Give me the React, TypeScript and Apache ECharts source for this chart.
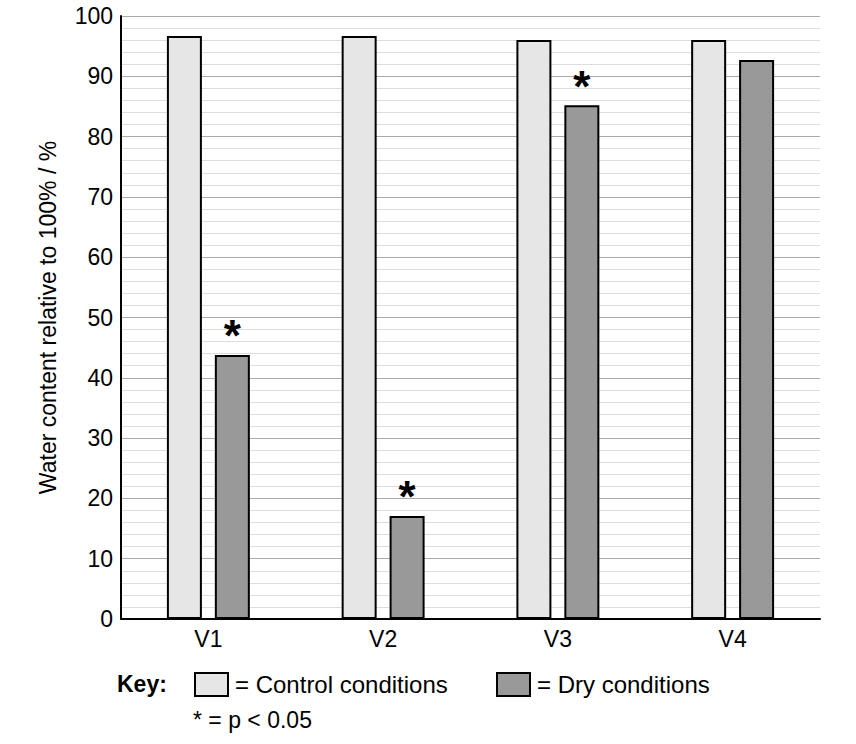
import React, { useEffect, useRef } from "react";
import * as echarts from "echarts";

const categories = ["V1", "V2", "V3", "V4"];
const controlValues = [96.7, 96.7, 96.0, 96.0];
const dryValues = [43.8, 17.1, 85.2, 92.7];
const significant = [true, true, true, false];

const font = "Liberation Sans, Arial, sans-serif";

const App: React.FC = () => {
  const chartRef = useRef<HTMLDivElement>(null);

  useEffect(() => {
    if (!chartRef.current) return;
    const chart = echarts.init(chartRef.current, null, { renderer: "svg" });

    const option = {
      animation: false,
      textStyle: { fontFamily: font },
      grid: { left: 121, right: 36, top: 16, bottom: 125 },
      xAxis: {
        type: "category",
        data: categories,
        axisLine: { lineStyle: { color: "#000", width: 2 } },
        axisTick: { show: false },
        axisLabel: { color: "#000", fontSize: 23, margin: 8, fontFamily: font },
      },
      yAxis: {
        type: "value",
        min: 0,
        max: 100,
        interval: 10,
        name: "Water content relative to 100% / %",
        nameLocation: "middle",
        nameGap: 62,
        nameTextStyle: { color: "#000", fontSize: 23, fontFamily: font },
        axisLine: { show: true, lineStyle: { color: "#000", width: 2 } },
        axisTick: { show: false },
        axisLabel: { color: "#000", fontSize: 23, margin: 8, fontFamily: font },
        splitLine: { lineStyle: { color: "#aaa", width: 1 } },
        minorTick: { show: false, splitNumber: 5 },
        minorSplitLine: { show: true, lineStyle: { color: "#ddd", width: 1 } },
      },
      series: [
        {
          type: "bar",
          data: controlValues,
          barWidth: 35,
          barGap: "37%",
          itemStyle: { color: "#e6e6e6", borderColor: "#000", borderWidth: 2 },
        },
        {
          type: "bar",
          data: dryValues.map((v, i) => ({
            value: v,
            label: {
              show: significant[i],
              position: "top",
              formatter: "*",
              fontSize: 44,
              fontWeight: "bold",
              color: "#000",
              distance: -3,
              fontFamily: font,
            },
          })),
          barWidth: 35,
          itemStyle: { color: "#999999", borderColor: "#000", borderWidth: 2 },
        },
      ],
      graphic: [
        {
          type: "text",
          left: 117,
          top: 672,
          style: { text: "Key:", fontSize: 23, fontWeight: "bold", fill: "#000", fontFamily: font },
        },
        {
          type: "rect",
          shape: { x: 195, y: 673, width: 33, height: 23 },
          style: { fill: "#e6e6e6", stroke: "#000", lineWidth: 2 },
        },
        {
          type: "text",
          left: 235,
          top: 672,
          style: { text: "= Control conditions", fontSize: 24, fill: "#000", fontFamily: font },
        },
        {
          type: "rect",
          shape: { x: 497, y: 673, width: 33, height: 23 },
          style: { fill: "#999999", stroke: "#000", lineWidth: 2 },
        },
        {
          type: "text",
          left: 537,
          top: 672,
          style: { text: "= Dry conditions", fontSize: 24, fill: "#000", fontFamily: font },
        },
        {
          type: "text",
          left: 193,
          top: 708,
          style: { text: "* = p < 0.05", fontSize: 23, fill: "#000", fontFamily: font },
        },
      ],
    };

    chart.setOption(option);
    return () => {
      chart.dispose();
    };
  }, []);

  return (
    <div
      ref={chartRef}
      style={{ position: "fixed", left: 0, top: 0, width: "856px", height: "744px", background: "#fff" }}
    />
  );
};

export default App;
